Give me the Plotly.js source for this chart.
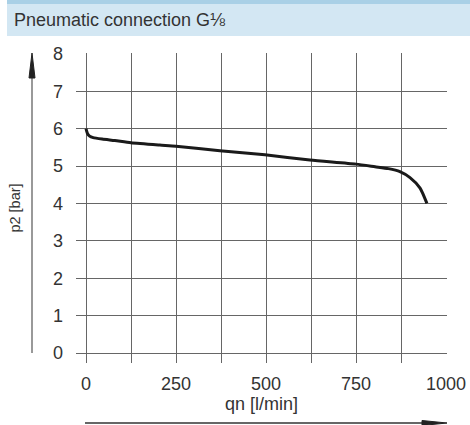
<!DOCTYPE html>
<html>
<head>
<meta charset="utf-8">
<script src="https://cdn.plot.ly/plotly-3.0.1.min.js"></script>
<style>
  html, body { margin: 0; padding: 0; background: #fff; }
  #chart { width: 470px; height: 425px; }
</style>
</head>
<body>
<div id="chart"></div>
<script>
// Data
const qn = [0, 4, 10, 20, 45, 80, 125, 205, 250, 372, 497, 622, 750, 803, 840, 872, 900, 928, 947];
const p2 = [6.0, 5.87, 5.8, 5.76, 5.72, 5.68, 5.62, 5.56, 5.53, 5.41, 5.30, 5.16, 5.05, 4.98, 4.93, 4.85, 4.69, 4.41, 4.0];

const xTickVals = [0, 125, 250, 375, 500, 625, 750, 875, 1000];
const xTickText = ['0', '', '250', '', '500', '', '750', '', '1000'];
const yTickVals = [0, 1, 2, 3, 4, 5, 6, 7, 8];
const yTickText = ['0', '1', '2', '3', '4', '5', '6', '7', '8'];

const chartTitle = 'Pneumatic connection G⅛';
const xTitle = 'qn [l/min]';
const yTitle = 'p2 [bar]';

// Layout geometry (pixels)
const W = 470, H = 425;
const mL = 76, mR = 23, mT = 53, mB = 62;
const pw = W - mL - mR, ph = H - mT - mB;
const px = x => (x - mL) / pw;          // pixel -> paper x
const py = y => (H - mB - y) / ph;      // pixel -> paper y

const gridColor = '#666';
const textColor = '#333';
const baseFamily = 'Liberation Sans, Arial, sans-serif';
const tickFont = { family: baseFamily, size: 18, color: textColor };

const trace = {
  x: qn, y: p2,
  type: 'scatter', mode: 'lines',
  line: { color: '#1a1a1a', width: 3, shape: 'spline', smoothing: 0.6 },
  hoverinfo: 'skip'
};

const shapes = [
  // header bands
  { type: 'rect', xref: 'paper', yref: 'paper', x0: px(7), x1: px(470), y0: py(36), y1: py(4),
    fillcolor: '#d3e7f3', line: { width: 0 }, layer: 'below' },
  { type: 'rect', xref: 'paper', yref: 'paper', x0: px(7), x1: px(470), y0: py(4), y1: py(0),
    fillcolor: '#a9d0e6', line: { width: 0 }, layer: 'below' },
  // y direction arrow
  { type: 'line', xref: 'paper', yref: 'paper', x0: px(32), x1: px(32), y0: py(353), y1: py(76),
    line: { color: '#777', width: 1.5 } },
  { type: 'path', xref: 'paper', yref: 'paper',
    path: `M ${px(32)} ${py(53)} L ${px(29)} ${py(78)} L ${px(35)} ${py(78)} Z`,
    fillcolor: '#222', line: { color: '#222', width: 1 } },
  // x direction arrow
  { type: 'line', xref: 'paper', yref: 'paper', x0: px(85), x1: px(424), y0: py(423), y1: py(423),
    line: { color: '#333', width: 1.5 } },
  { type: 'path', xref: 'paper', yref: 'paper',
    path: `M ${px(447)} ${py(423)} L ${px(422)} ${py(420.5)} L ${px(422)} ${py(425.5)} Z`,
    fillcolor: '#222', line: { color: '#222', width: 1 } }
];

const layout = {
  width: W, height: H,
  margin: { l: mL, r: mR, t: mT, b: mB, pad: 0 },
  paper_bgcolor: '#fff', plot_bgcolor: '#fff',
  showlegend: false,
  title: {
    text: chartTitle,
    font: { family: baseFamily, size: 18, color: textColor },
    xref: 'container', yref: 'container',
    x: 14 / W, xanchor: 'left',
    y: 1 - 20 / H, yanchor: 'middle'
  },
  xaxis: {
    range: [-(10 / 0.36), (pw - 10) / 0.36],
    tickmode: 'array', tickvals: xTickVals, ticktext: xTickText,
    showgrid: true, gridcolor: gridColor, gridwidth: 1,
    zeroline: false, showline: false, ticks: '',
    tickfont: tickFont, ticklabelstandoff: 8,
    title: { text: xTitle, font: { family: baseFamily, size: 18, color: textColor }, standoff: 1 },
    fixedrange: true
  },
  yaxis: {
    range: [-(10 / 37.4), (ph - 10) / 37.4],
    tickmode: 'array', tickvals: yTickVals, ticktext: yTickText,
    showgrid: true, gridcolor: gridColor, gridwidth: 1,
    zeroline: false, showline: false, ticks: '',
    tickfont: tickFont, ticklabelstandoff: 12,
    title: { text: yTitle, font: { family: baseFamily, size: 14.5, color: textColor }, standoff: 28 },
    fixedrange: true
  },
  shapes: shapes
};

Plotly.newPlot('chart', [trace], layout, { displayModeBar: false, staticPlot: true });
</script>
</body>
</html>
